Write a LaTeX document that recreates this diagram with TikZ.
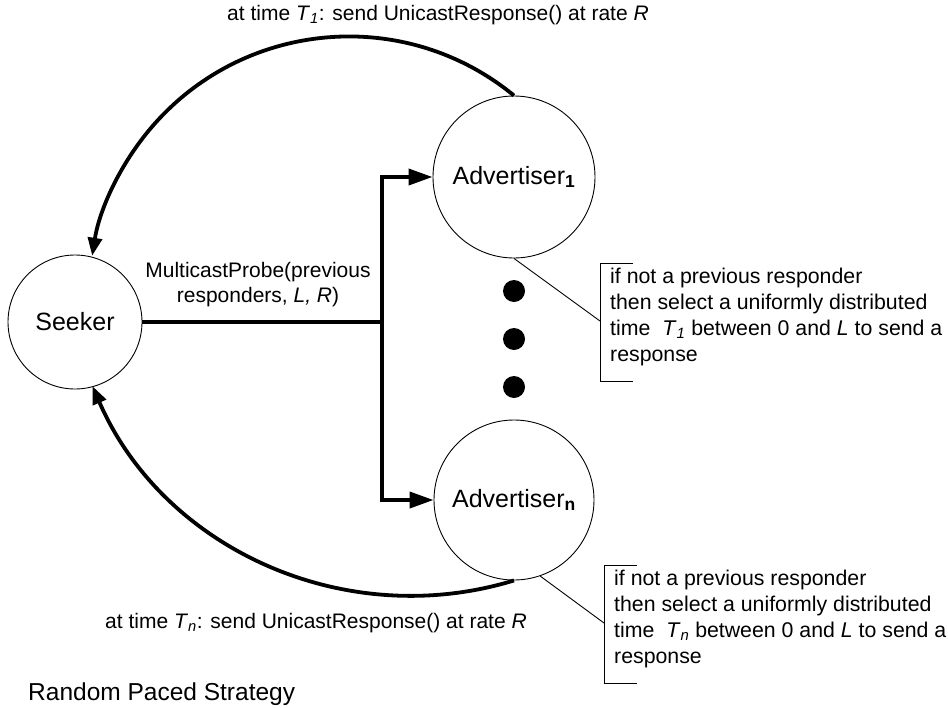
\documentclass[tikz,border=0pt]{standalone}
\usepackage{fontspec}
\setmainfont{Liberation Sans}
\usetikzlibrary{arrows.meta}
\begin{document}
\begin{tikzpicture}[x=1pt,y=1pt,
  circ/.style={draw, circle, line width=0.9pt, inner sep=0pt, font=\fontsize{25}{30}\selectfont},
  thickline/.style={line width=3.8pt},
  tip/.style={-{Triangle[length=24pt,width=16pt]}},
  ctip/.style={-{Triangle[length=18pt,width=14pt]}},
  lbl/.style={font=\fontsize{21}{25}\selectfont, inner sep=0pt},
  note/.style={font=\fontsize{21.3}{26}\selectfont, inner sep=0pt, align=left, anchor=north west},
  thin/.style={line width=0.9pt},
  dot/.style={fill=black, circle, inner sep=0pt, minimum size=22pt}
]
\useasboundingbox (0,0) rectangle (948,-707);
\node[circ, minimum size=134pt] (seeker) at (75,-322) {Seeker};
\node[circ, minimum size=162pt] (adv1) at (514,-177) {Advertiser\textsubscript{\textbf{1}}};
\node[circ, minimum size=160pt] (advn) at (514,-500) {Advertiser\textsubscript{\textbf{n}}};
\node[dot] (d1) at (514,-291) {};
\node[dot] (d2) at (514,-339) {};
\node[dot] (d3) at (514,-387) {};
% probe
\coordinate (j) at (382,-322);
\coordinate (jt) at (382,-177);
\coordinate (jb) at (382,-500);
\draw[thickline] (seeker.east) -- (j);
\draw[thickline, tip] (j) -- (jt) -- (adv1.west);
\draw[thickline, tip] (j) -- (jb) -- (advn.west);
\node[lbl, align=center] (probe) at (258,-285) {MulticastProbe(previous\\responders, \textit{L, R})};
% responses
\draw[thickline, ctip] (adv1.north) arc[start angle=50.6, end angle=171, radius=260];
\draw[thickline, ctip] (advn.south) arc[start angle=-73, end angle=-156.5, radius=348.6];
\node[lbl] (top) at (438,-15) {at time \textit{T}\textsubscript{\textit{1}}: send UnicastResponse() at rate \textit{R}};
\node[lbl] (bot) at (316,-623) {at time \textit{T}\textsubscript{\textit{n}}: send UnicastResponse() at rate \textit{R}};
% callouts
\coordinate (c1) at (600,-321);
\draw[thin] (adv1.south) -- (c1);
\draw[thin] (633,-263) -- (600,-263) -- (600,-381) -- (633,-381);
\node[note] (n1) at (610,-268) {if not a previous responder\\then select a uniformly distributed\\time~~\textit{T}\textsubscript{\textit{1}} between 0 and \textit{L} to send a\\response};
\coordinate (c2) at (604,-623);
\draw[thin] (advn.-71) -- (c2);
\draw[thin] (637,-565) -- (604,-565) -- (604,-683) -- (637,-683);
\node[note] (n2) at (614,-570) {if not a previous responder\\then select a uniformly distributed\\time~~\textit{T}\textsubscript{\textit{n}} between 0 and \textit{L} to send a\\response};
\node[lbl, font=\fontsize{24.5}{29}\selectfont, anchor=west] (title) at (28,-694) {Random Paced Strategy};
\end{tikzpicture}
\end{document}
